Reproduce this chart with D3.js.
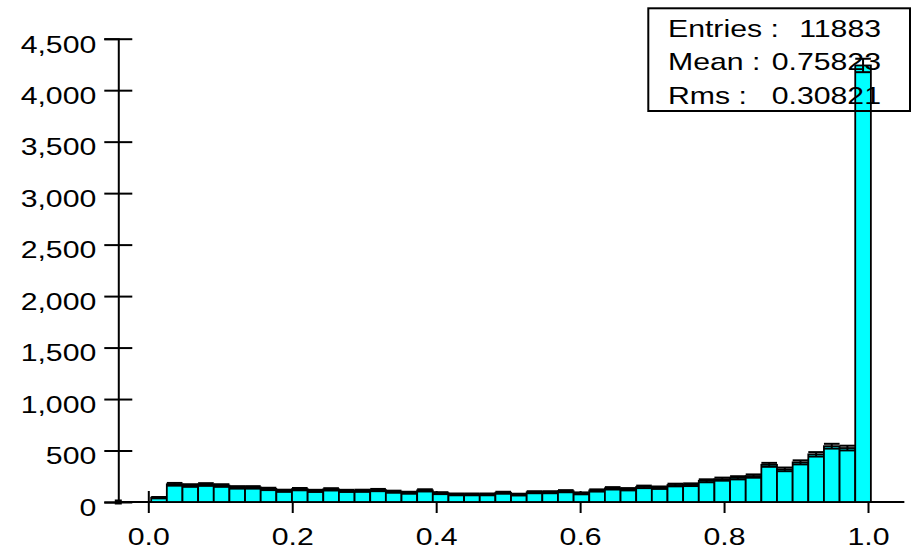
<!DOCTYPE html>
<html>
<head>
<meta charset="utf-8">
<script src="https://cdn.jsdelivr.net/npm/d3@7"></script>
<style>
  html, body { margin: 0; padding: 0; background: #ffffff; }
  svg { display: block; }
  text { font-family: "Liberation Sans", Arial, sans-serif; fill: #000; }
</style>
</head>
<body>
<svg id="chart" width="913" height="552"></svg>
<script>
// Histogram bins: 46 equal bins starting at binStart
const binStart = 0.004;
const binWidth = 1 / 46;
const counts = [
  42, 172, 160, 170, 160, 142, 142, 127, 109, 125,
  108, 123, 108, 109, 116, 100, 90, 113, 86, 74,
  74, 74, 90, 72, 95, 95, 105, 84, 112, 133,
  124, 147, 139, 165, 168, 206, 222, 235, 252, 361,
  317, 385, 463, 542, 524, 4240
];
const yTicks = [0, 500, 1000, 1500, 2000, 2500, 3000, 3500, 4000, 4500];
const xTicks = [0.0, 0.2, 0.4, 0.6, 0.8, 1.0];
const xAxisExtent = [-0.0417, 1.0505];
const statLabels = ["Entries :", "Mean :", "Rms :"];
const statValues = ["11883", "0.75823", "0.30821"];

const FONT = 24;       // label font size
const STRETCH = 1.26;  // horizontal stretch of glyphs

const svg = d3.select("#chart");

const x = d3.scaleLinear().domain([0, 1]).range([148.3, 868]);
const y = d3.scaleLinear().domain([0, 4500]).range([502, 38.7]);

// ---- axes ----
const axes = svg.append("g");

// y axis
const yAxis = axes.append("g")
  .attr("transform", `translate(${x(xAxisExtent[0])},0)`)
  .call(d3.axisLeft(y).tickValues(yTicks).tickFormat(d3.format(",")).tickSizeOuter(0).tickSize(14));
yAxis.select(".domain").attr("stroke", "#000").attr("stroke-width", 2);
yAxis.selectAll(".tick line").attr("x1", 14).attr("x2", -14).attr("stroke", "#000").attr("stroke-width", 2);
yAxis.selectAll(".tick text")
  .attr("x", 0).attr("dy", null)
  .attr("font-size", FONT)
  .attr("text-anchor", "end")
  .attr("transform", `translate(-22,13.3) scale(${STRETCH},1)`);

// x axis line
axes.append("line")
  .attr("x1", x(xAxisExtent[0])).attr("x2", x(xAxisExtent[1]))
  .attr("y1", y(0)).attr("y2", y(0))
  .attr("stroke", "#000").attr("stroke-width", 2);

const xAxis = axes.append("g")
  .attr("transform", `translate(0,${y(0)})`)
  .call(d3.axisBottom(x).tickValues(xTicks).tickFormat(d3.format(".1f")).tickSizeOuter(0).tickSize(11));
xAxis.select(".domain").remove();
xAxis.selectAll(".tick line").attr("y1", -11).attr("y2", 11).attr("stroke", "#000").attr("stroke-width", 2);
xAxis.selectAll(".tick text")
  .attr("y", 0).attr("dy", null)
  .attr("font-size", FONT)
  .attr("text-anchor", "middle")
  .attr("transform", `translate(0,43) scale(${STRETCH},1)`);

// origin marker
axes.append("rect")
  .attr("x", x(xAxisExtent[0]) - 3.5).attr("y", y(0) - 2.5)
  .attr("width", 7).attr("height", 5)
  .attr("fill", "#000");

// ---- bars ----
const bins = counts.map((c, i) => ({
  x0: binStart + i * binWidth,
  x1: binStart + (i + 1) * binWidth,
  count: c
}));

const bars = svg.append("g");
bars.selectAll("rect")
  .data(bins)
  .join("rect")
  .attr("x", d => x(d.x0))
  .attr("width", d => x(d.x1) - x(d.x0))
  .attr("y", d => y(d.count))
  .attr("height", d => y(0) - y(d.count))
  .attr("fill", "#00ffff")
  .attr("stroke", "#000")
  .attr("stroke-width", 1.8);

// ---- statistical error bars (±sqrt(N)) ----
const errs = svg.append("g").attr("stroke", "#000").attr("stroke-width", 2);
bins.forEach(d => {
  const s = Math.sqrt(d.count);
  const xa = x(d.x0), xb = x(d.x1), xm = (xa + xb) / 2;
  errs.append("line").attr("x1", xa).attr("x2", xb).attr("y1", y(d.count + s)).attr("y2", y(d.count + s));
  errs.append("line").attr("x1", xa).attr("x2", xb).attr("y1", y(d.count - s)).attr("y2", y(d.count - s));
  errs.append("line").attr("x1", xm).attr("x2", xm).attr("y1", y(d.count + s)).attr("y2", y(d.count - s));
});

// ---- statistics box ----
const box = svg.append("g");
box.append("rect")
  .attr("x", 648.3).attr("y", 8.3)
  .attr("width", 261.7).attr("height", 102.7)
  .attr("fill", "none").attr("stroke", "#000").attr("stroke-width", 2);

const baselines = [36.6, 70.3, 103.6];
statLabels.forEach((lbl, i) => {
  box.append("text")
    .attr("font-size", FONT)
    .attr("text-anchor", "start")
    .attr("transform", `translate(668,${baselines[i]}) scale(${STRETCH},1)`)
    .text(lbl);
  box.append("text")
    .attr("font-size", FONT)
    .attr("text-anchor", "end")
    .attr("transform", `translate(881,${baselines[i]}) scale(${STRETCH},1)`)
    .text(statValues[i]);
});
</script>
</body>
</html>
